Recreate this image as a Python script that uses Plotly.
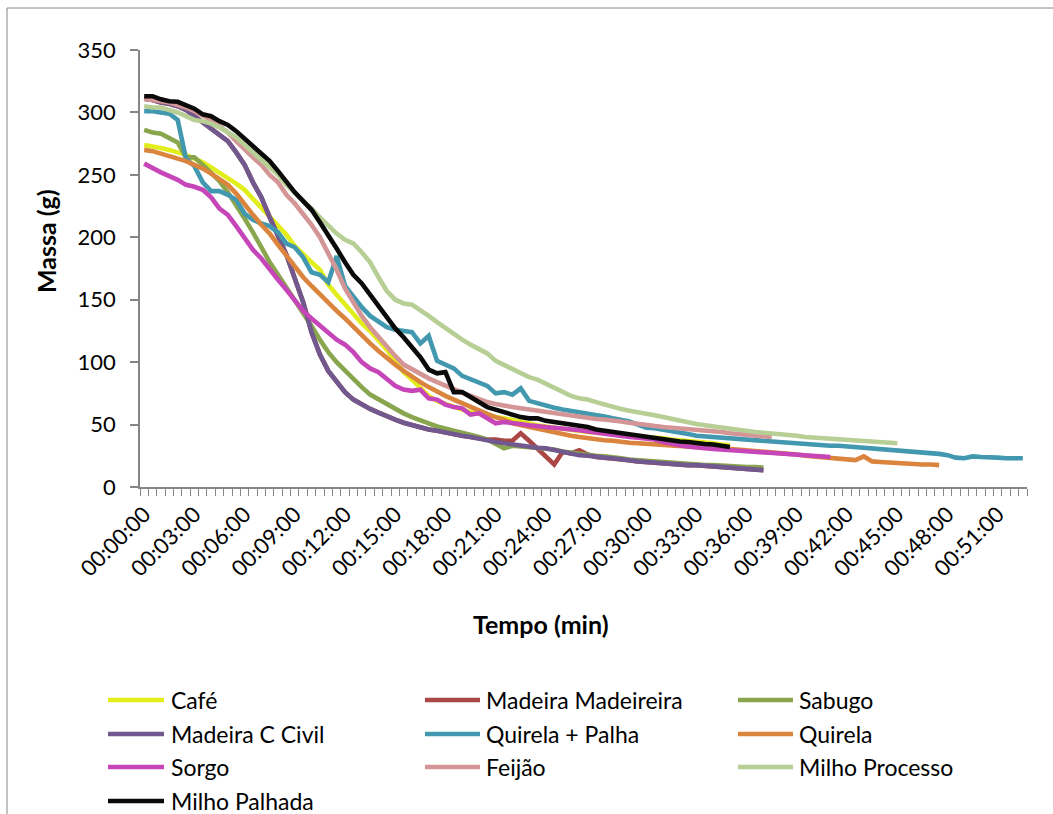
import plotly.graph_objects as go

# Time axis: one reading every 30 s, 00:00:00 to 00:52:30 (minutes)
tempo_min = [i * 0.5 for i in range(106)]

posicoes_rotulos = [0, 3, 6, 9, 12, 15, 18, 21, 24, 27, 30, 33, 36, 39, 42, 45, 48, 51]
rotulos_tempo = ["00:00:00", "00:03:00", "00:06:00", "00:09:00", "00:12:00", "00:15:00",
                 "00:18:00", "00:21:00", "00:24:00", "00:27:00", "00:30:00", "00:33:00",
                 "00:36:00", "00:39:00", "00:42:00", "00:45:00", "00:48:00", "00:51:00"]

# Mass readings (g)
cafe = [274, 273, 271.5, 270, 268, 266, 263, 260, 256, 252, 248, 243, 238, 231, 224, 216,
        209, 202, 193, 186, 180, 174, 162, 154, 146, 139, 131, 125, 118, 110, 101, 92, 86,
        79, 73, 69, 66.5, 64, 62, 60, 58.5, 57, 56, 55, 53.5, 52, 50.5, 49.5, 48.5, 47.5,
        46.5, 45.5, 45, 44, 43.5, 43, 42.5, 42, 41.5, 41, 40, 39.5, 39, 38, 37.5, 37, 36,
        35.5, 35, 34, 33.5]

madeira_madeireira = [311, 310, 308, 307, 305, 302, 297, 292, 287, 282, 277, 268, 258, 244,
                      232, 216, 202, 186, 167, 148, 124, 106, 93, 84, 76, 70, 66, 62.5, 59.5,
                      56.5, 54, 51.5, 49.5, 47.5, 46, 45, 43.5, 42, 41, 40, 39, 38, 38, 37,
                      37, 43, 37, 31, 25, 18, 28, 27, 29.5, 26, 24, 23.5, 23, 22, 21.5, 20.5,
                      20, 19.5, 18.5, 18, 17.5, 17.5, 17.5, 17, 16.5, 16.5, 16, 15.5, 15, 14,
                      13.5]

sabugo = [286, 284, 283, 280, 276, 264, 264, 258, 251, 245, 236, 226, 215, 204, 192, 180,
          170, 160, 150, 140, 129, 118, 108, 100, 93, 86, 80, 74, 70, 66, 62, 59, 56, 53, 51,
          48.5, 46.5, 45, 43.5, 42, 40, 38, 35, 31, 33, 32.5, 32, 31.5, 31, 30, 28.5, 27.5,
          27, 26, 25, 24.5, 24, 23, 22, 21.5, 21, 20, 19.5, 19, 18.5, 18, 18, 17.5, 17.5, 17,
          17, 16.5, 16, 16, 15.5]

madeira_c_civil = [311, 310, 308, 307, 305, 302, 297, 292, 287, 282, 277, 268, 258, 244,
                   232, 216, 202, 186, 167, 148, 124, 106, 93, 84, 76, 70, 66, 62.5, 59.5,
                   56.5, 54, 51.5, 49.5, 47.5, 46, 45, 43.5, 42, 41, 40, 39, 37.5, 36, 35,
                   34, 33, 32, 31.5, 31, 29.5, 28, 26.5, 25.5, 25, 24, 23.5, 23, 22, 21.5,
                   20.5, 20, 19.5, 18.5, 18, 17.5, 17.5, 17.5, 17, 16.5, 16.5, 16, 15.5, 15,
                   14, 13.5]

quirela_palha = [301, 301, 300, 299, 294, 263, 257, 244, 237, 237, 234, 230, 219, 214, 211,
                 209, 204, 195, 192, 184, 172, 170, 164, 185, 161, 152, 144, 137, 133, 128,
                 126, 125, 124, 115, 121, 101, 98, 95, 89, 86, 84, 81, 75, 76, 74, 79, 69, 67,
                 65, 63.5, 62, 61, 60, 59, 57.5, 56.5, 55, 54, 52.5, 50, 47.5, 47, 46, 45, 44,
                 42.5, 41, 40.5, 40, 39.5, 39, 38.5, 38, 37.5, 37, 36.5, 36, 35, 35, 34.5, 34,
                 33.5, 33, 33, 32.5, 32, 31.5, 31, 30.5, 30, 29.5, 29, 28.5, 28, 27, 26.5,
                 25.5, 23.5, 23, 24.5, 24, 24, 23.5, 23, 23, 23]

quirela = [270, 269, 267, 265, 263, 261, 258, 255, 251, 246, 242, 235, 226, 218, 210, 203,
           194, 185, 177, 168, 161, 154, 148, 141, 135, 128, 121, 115, 109, 103, 98, 93, 88,
           84, 80, 76, 73, 70, 67, 64, 61, 58.5, 56, 54, 51, 49.5, 48, 46.5, 45, 43.5, 42, 41,
           40, 39, 38, 37.5, 37, 36, 35.5, 35, 34.5, 34, 33.5, 33.5, 33, 32.5, 32, 31.5, 31.5,
           31, 30.5, 30, 29.5, 29, 28, 27.5, 27, 26.5, 26, 25, 24.5, 24, 23, 22.5, 22, 21.5,
           24.5, 20.5, 20, 19.5, 19, 18.5, 18.5, 18, 18, 17.5]

sorgo = [259, 255, 252, 249, 246, 242, 240.5, 238, 232, 223, 218, 209, 199, 190, 183, 174,
         166, 158, 149, 141, 135, 129, 123, 118, 114, 108, 100, 95, 92, 86, 81, 78, 77, 78,
         71, 70, 66, 64, 63, 58, 59, 55, 51, 52, 51.5, 50.5, 49.5, 48.5, 48, 47.5, 47, 46,
         45.5, 44.5, 43.5, 42.5, 41.5, 41, 40, 39.5, 39, 38, 36, 34.5, 33.5, 32.5, 31.5, 31,
         30.5, 30, 29.5, 29, 28.5, 28, 27.5, 27, 26.5, 26, 25.5, 25, 24.5, 24, 24]

feijao = [311, 310, 309, 308, 306, 304, 301, 298, 294, 289, 284, 277, 270, 264, 258, 250,
          244, 234, 227, 219, 210, 200, 187, 174, 159, 148, 137, 128, 120, 112, 105, 98, 94,
          90, 87, 84, 81, 78, 75.5, 73, 70, 68, 66.5, 65, 64, 63, 62, 61, 60, 59, 58, 57, 56,
          55.5, 54.5, 54, 53.5, 52.5, 51.5, 50.5, 49.5, 49, 48, 47.5, 47, 46.5, 46, 45, 44.5,
          44, 43, 42.5, 42, 41.5, 40.5, 40]

milho_processo = [305, 304, 304, 302, 300, 297, 294, 293, 291, 288, 284, 280, 274, 268, 262,
                  255, 250, 242, 236, 230, 223, 216, 209, 203, 198, 195, 188, 180, 168, 157,
                  150, 147, 146, 142, 137, 132, 127, 122, 118, 114, 110, 107, 101, 98, 94, 91,
                  88, 86, 83, 80, 76, 73, 71, 70, 68, 66, 64, 62.5, 61, 60, 59, 57.5, 56, 54.5,
                  53, 52, 50.5, 49.5, 48.5, 48, 47, 46, 45, 44, 43.5, 43, 42, 41.5, 41, 40,
                  39.5, 39, 38.5, 38, 38, 37.5, 37, 36.5, 36, 35.5, 35]

milho_palhada = [313, 313, 310.5, 309, 308.5, 306, 303, 298.5, 297, 293, 290, 285, 279, 273,
                 268, 261, 253, 244, 236, 229, 222, 212, 202, 191, 180, 170, 163, 154, 145,
                 136, 127, 120, 112, 104, 94, 91, 92, 76, 76, 72, 67, 64, 62, 60, 58, 56, 55,
                 55, 53, 52, 51, 50, 49, 48, 46, 45, 44, 43, 42, 41, 40, 39, 38, 37.5, 36.5,
                 36, 35, 34.5, 34, 33, 32]

series = [
    ("Café", cafe, "#E2EE1C"),
    ("Madeira Madeireira", madeira_madeireira, "#AA4643"),
    ("Sabugo", sabugo, "#89A54E"),
    ("Madeira C Civil", madeira_c_civil, "#71588F"),
    ("Quirela + Palha", quirela_palha, "#4198AF"),
    ("Quirela", quirela, "#DB843D"),
    ("Sorgo", sorgo, "#C645B8"),
    ("Feijão", feijao, "#D39595"),
    ("Milho Processo", milho_processo, "#B7CE95"),
    ("Milho Palhada", milho_palhada, "#0A0A0A"),
]

W, H = 1053, 814
ML, MR, MT, MB = 140, 26, 50, 327
PW, PH = W - ML - MR, H - MT - MB
FONTE = "Lato"
TAM = 22
TAM_LEGENDA = 23
TAM_TITULO = 25
CINZA = "#868686"


def px(x):
    return (x - ML) / PW


def py(y):
    return (H - MB - y) / PH


fig = go.Figure()
for nome, valores, cor in series:
    fig.add_trace(go.Scatter(
        x=tempo_min[:len(valores)], y=valores, mode="lines", name=nome,
        line=dict(color=cor, width=4.6), showlegend=False, hoverinfo="x+y+name",
    ))

# Legend drawn as three columns of line samples and labels
col_linha = [(108, 164), (425, 480), (738, 793)]
col_texto = [169, 484, 797]
linhas_y = [700, 734, 767, 801]
shapes = []
annotations = []
for k, (nome, _, cor) in enumerate(series):
    r, c = divmod(k, 3)
    x0, x1 = col_linha[c]
    yy = linhas_y[r]
    shapes.append(dict(type="line", xref="paper", yref="paper",
                       x0=px(x0), x1=px(x1), y0=py(yy), y1=py(yy),
                       line=dict(color=cor, width=4.6)))
    annotations.append(dict(text=nome, xref="paper", yref="paper",
                            x=px(col_texto[c]), y=py(yy), xanchor="left", yanchor="middle",
                            showarrow=False,
                            font=dict(family=FONTE, size=TAM_LEGENDA, color="black")))

# Chart-area border
shapes.append(dict(type="rect", xref="paper", yref="paper",
                   x0=px(7), x1=px(1062), y0=py(8), y1=py(830),
                   line=dict(color=CINZA, width=1), layer="below"))

annotations.append(dict(text="<b>Massa (g)</b>", xref="paper", yref="paper",
                        x=px(46), y=py(241), textangle=-90, showarrow=False,
                        xanchor="center", yanchor="middle",
                        font=dict(family=FONTE, size=TAM_TITULO, color="black")))
annotations.append(dict(text="<b>Tempo (min)</b>", xref="paper", yref="paper",
                        x=px(541), y=py(624), showarrow=False,
                        xanchor="center", yanchor="middle",
                        font=dict(family=FONTE, size=TAM_TITULO, color="black")))

fig.update_layout(
    width=W, height=H,
    margin=dict(l=ML, r=MR, t=MT, b=MB, pad=0),
    paper_bgcolor="white", plot_bgcolor="white",
    font=dict(family=FONTE, size=TAM, color="black"),
    shapes=shapes, annotations=annotations,
    showlegend=False,
)
fig.update_xaxes(
    range=[-0.25, 52.75], tickmode="array", tickvals=posicoes_rotulos, ticktext=rotulos_tempo,
    tickangle=-45, ticks="", showline=True, linecolor=CINZA, linewidth=1.5,
    showgrid=False, zeroline=False, ticklabelstandoff=4,
    minor=dict(ticks="outside", tick0=-0.25, dtick=0.5, ticklen=7, tickcolor=CINZA,
               tickwidth=1.2, showgrid=False),
)
fig.update_yaxes(
    range=[0, 350], tickmode="linear", tick0=0, dtick=50, ticks="outside", ticklen=8,
    tickcolor=CINZA, tickwidth=1.5, showline=True, linecolor=CINZA, linewidth=1.5,
    showgrid=False, zeroline=False, ticklabelstandoff=10,
)

fig.write_html("out.html")
